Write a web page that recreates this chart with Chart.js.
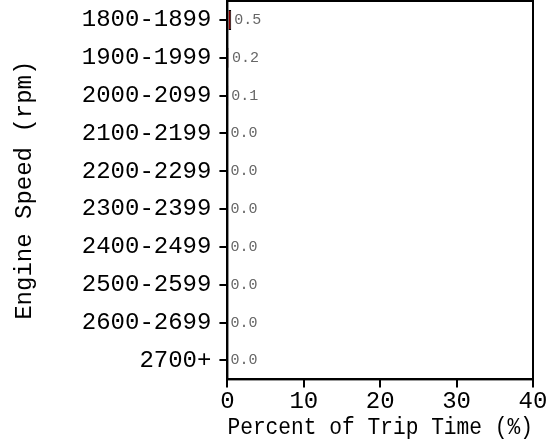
<!DOCTYPE html>
<html>
<head>
<meta charset="utf-8">
<script src="https://cdn.jsdelivr.net/npm/chart.js@4"></script>
<style>
    html, body { margin: 0; padding: 0; background: #fff; }
    #wrap { width: 559px; height: 442px; }
</style>
</head>
<body>
<div id="wrap"><canvas id="speed-chart"></canvas></div>
<script>
const speedBins = ['1800-1899', '1900-1999', '2000-2099', '2100-2199', '2200-2299',
    '2300-2399', '2400-2499', '2500-2599', '2600-2699', '2700+'];
const tripPercent = [0.5, 0.2, 0.1, 0.0, 0.0, 0.0, 0.0, 0.0, 0.0, 0.0];
const xTicks = [0, 10, 20, 30, 40];

const monoFont = "'Liberation Mono', 'DejaVu Sans Mono', monospace";

// box around the plot area
const frame = {
    id: 'frame',
    afterDatasetsDraw(chart) {
        const { ctx, chartArea } = chart;
        ctx.save();
        ctx.strokeStyle = '#000';
        ctx.lineWidth = 2;
        ctx.strokeRect(chartArea.left, chartArea.top, chartArea.right - chartArea.left, chartArea.bottom - chartArea.top);
        ctx.restore();
    }
};

// value text just after each bar
const barValues = {
    id: 'barValues',
    afterDatasetsDraw(chart) {
        const { ctx } = chart;
        const meta = chart.getDatasetMeta(0);
        ctx.save();
        ctx.font = '15px ' + monoFont;
        ctx.fillStyle = '#666';
        ctx.textBaseline = 'middle';
        meta.data.forEach((bar, i) => {
            ctx.fillText(tripPercent[i].toFixed(1), bar.x + 3, bar.y);
        });
        ctx.restore();
    }
};

document.addEventListener('DOMContentLoaded', function () {
    const ctx = document.getElementById('speed-chart').getContext('2d');
    new Chart(ctx, {
        type: 'bar',
        data: {
            labels: speedBins,
            datasets: [{
                data: tripPercent,
                backgroundColor: '#8b0000',
                borderColor: '#000',
                borderWidth: 1,
                barPercentage: 0.53,
                categoryPercentage: 1.0
            }]
        },
        options: {
            indexAxis: 'y',
            responsive: true,
            maintainAspectRatio: false,
            animation: false,
            layout: { padding: { top: 1, right: 26, left: 4, bottom: 0 } },
            plugins: { legend: { display: false }, tooltip: { enabled: false } },
            scales: {
                x: {
                    type: 'linear',
                    min: 0,
                    max: 40,
                    afterBuildTicks: axis => { axis.ticks = xTicks.map(v => ({ value: v })); },
                    afterFit: axis => { axis.height -= 3; },
                    grid: { drawOnChartArea: false, drawTicks: true, tickLength: 8, color: '#000', lineWidth: 2 },
                    border: { display: true, color: '#000', width: 2 },
                    ticks: { color: '#000', font: { family: monoFont, size: 24 }, padding: 0, maxRotation: 0 },
                    title: { display: true, text: 'Percent of Trip Time (%)', color: '#000', font: { family: monoFont, size: 24 }, padding: 0 }
                },
                y: {
                    afterFit: axis => { axis.paddingTop = 0; axis.paddingBottom = 0; },
                    grid: { offset: false, drawOnChartArea: false, drawTicks: true, tickLength: 8, color: '#000', lineWidth: 2 },
                    border: { display: true, color: '#000', width: 2 },
                    ticks: { color: '#000', font: { family: monoFont, size: 24 }, padding: 8 },
                    title: { display: true, text: 'Engine Speed (rpm)', color: '#000', font: { family: monoFont, size: 24 }, padding: { top: 6, bottom: 35 } }
                }
            }
        },
        plugins: [frame, barValues]
    });
});
</script>
</body>
</html>
